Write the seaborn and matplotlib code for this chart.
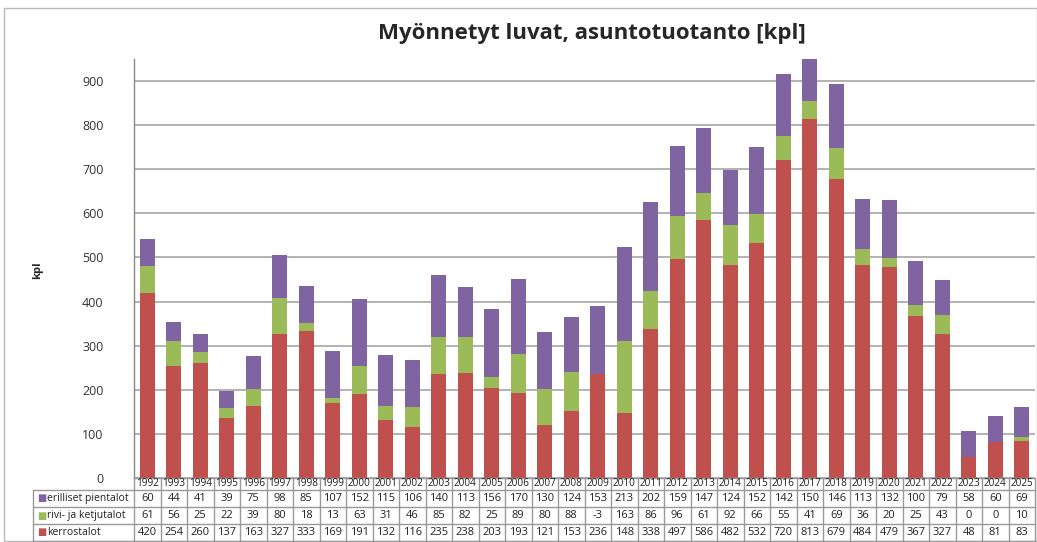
import matplotlib
matplotlib.use("Agg")
import matplotlib.pyplot as plt
import seaborn as sns
import pandas as pd
import numpy as np
from matplotlib.patches import Rectangle

years = [str(y) for y in range(1992, 2026)]
erilliset = [60, 44, 41, 39, 75, 98, 85, 107, 152, 115, 106, 140, 113, 156, 170,
             130, 124, 153, 213, 202, 159, 147, 124, 152, 142, 150, 146, 113, 132, 100, 79, 58, 60, 69]
rivi = [61, 56, 25, 22, 39, 80, 18, 13, 63, 31, 46, 85, 82, 25, 89,
        80, 88, -3, 163, 86, 96, 61, 92, 66, 55, 41, 69, 36, 20, 25, 43, 0, 0, 10]
kerros = [420, 254, 260, 137, 163, 327, 333, 169, 191, 132, 116, 235, 238, 203, 193,
          121, 153, 236, 148, 338, 497, 586, 482, 532, 720, 813, 679, 484, 479, 367, 327, 48, 81, 83]
series_names = ["erilliset pientalot", "rivi- ja ketjutalot", "kerrostalot"]
colors = {"erilliset pientalot": "#8064A2", "rivi- ja ketjutalot": "#9BBB59", "kerrostalot": "#C0504D"}

df = pd.DataFrame({"year": years, "erilliset": erilliset, "rivi": rivi, "kerros": kerros})
df["lvl_k"] = df["kerros"]
df["lvl_r"] = df["kerros"] + df["rivi"].clip(lower=0)
df["lvl_e"] = df["lvl_r"] + df["erilliset"]

sns.set_style("white")
plt.rcParams["font.family"] = ["Open Sans", "DejaVu Sans"]

W, H = 1037, 542
fig = plt.figure(figsize=(W / 100, H / 100), dpi=100)
ax = fig.add_axes([134 / W, 1 - 478 / H, (1035 - 134) / W, (478 - 59) / H])

bw = 0.57
for col, name in [("lvl_e", "erilliset pientalot"), ("lvl_r", "rivi- ja ketjutalot"),
                  ("lvl_k", "kerrostalot")]:
    sns.barplot(data=df, x="year", y=col, color=colors[name], width=bw,
                saturation=1, ax=ax, zorder=2, linewidth=0, edgecolor="none")

ax.set_ylim(0, 950)
ax.set_xlim(-0.5, len(years) - 0.5)
ax.set_yticks(range(0, 901, 100))
ax.tick_params(axis="y", labelsize=9, colors="#333333", length=0, pad=22)
ax.set_xticks([])
ax.set_xlabel("")
ax.set_ylabel("")
ax.yaxis.grid(True, color="#A6A6A6", linewidth=1.2, zorder=0)
ax.set_axisbelow(True)
for s in ["top", "right", "bottom"]:
    ax.spines[s].set_visible(False)
ax.spines["left"].set_color("#888888")
ax.spines["left"].set_linewidth(1)

fig.text(38 / W, 1 - 270 / H, "kpl", rotation=90, ha="center", va="center",
         fontsize=8, fontweight="bold")
fig.text(592 / W, 1 - 33 / H, "Myönnetyt luvat, asuntotuotanto [kpl]", ha="center",
         va="center", fontsize=16, fontweight="bold")

# Data table
x0 = 134
cw = (1035 - 134) / len(years)
row_tops = [478, 490, 507, 524, 541]
line_col = "#999999"

def fx(px):
    return px / W

def fy(py):
    return 1 - py / H

fig.add_artist(plt.Line2D([fx(x0), fx(1035)], [fy(478), fy(478)], color=line_col, lw=1))
for yy in row_tops[1:]:
    fig.add_artist(plt.Line2D([fx(33), fx(1035)], [fy(yy), fy(yy)], color=line_col, lw=1))
fig.add_artist(plt.Line2D([fx(33), fx(33)], [fy(490), fy(541)], color=line_col, lw=1))
for i in range(len(years) + 1):
    xx = x0 + i * cw
    fig.add_artist(plt.Line2D([fx(xx), fx(xx)], [fy(478), fy(541)], color=line_col, lw=1))

for i, y in enumerate(years):
    cx = x0 + (i + 0.5) * cw
    fig.text(fx(cx), fy(484), y, ha="center", va="center", fontsize=7.2, color="#222222")
rows = [erilliset, rivi, kerros]
for r, (name, vals) in enumerate(zip(series_names, rows)):
    cy = (row_tops[r + 1] + row_tops[r + 2]) / 2
    fig.text(fx(37), fy(cy), "■", ha="left", va="center", fontsize=7, color=colors[name],
             family=["DejaVu Sans"])
    fig.text(fx(47), fy(cy), name, ha="left", va="center", fontsize=7.5, color="#222222")
    for i, v in enumerate(vals):
        cx = x0 + (i + 0.5) * cw
        fig.text(fx(cx), fy(cy), str(v), ha="center", va="center", fontsize=8, color="#222222")

fig.add_artist(Rectangle((fx(4), fy(541)), fx(1037) - fx(4), fy(8) - fy(541),
                         fill=False, edgecolor="#BBBBBB", lw=1, transform=fig.transFigure))

fig.savefig("out.png", dpi=100)
